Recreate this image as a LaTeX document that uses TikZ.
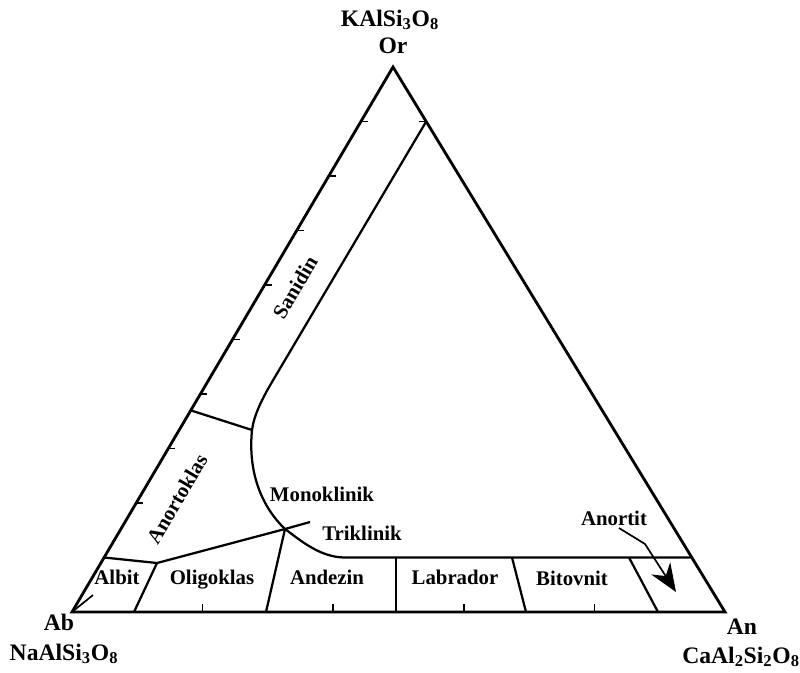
\documentclass[tikz,border=0pt]{standalone}
\usepackage{fontspec}
\setmainfont{Liberation Serif}
\usetikzlibrary{calc,arrows.meta}
\tikzset{every node/.style={inner sep=0pt,font=\fontsize{14.8}{16}\selectfont\bfseries}}
\tikzset{v/.style={font=\fontsize{16.8}{18}\selectfont\bfseries}}
\tikzset{rim/.style={line width=2pt,line join=miter}}
\tikzset{bd/.style={line width=1.6pt}}
\tikzset{tk/.style={line width=1.2pt}}
\tikzset{a/.style={line width=1.2pt,-{Stealth[length=20pt,width=16pt]}}}

\begin{document}
\begin{tikzpicture}[x=0.025cm,y=-0.025cm]
  \useasboundingbox (0,0) rectangle (800,672);
  % corners
  \coordinate (Ab) at (72,612);
  \coordinate (An) at (725,612);
  \coordinate (Or) at (393,67);
  \draw[rim] (Ab) -- (An) -- (Or) -- cycle;
  % ticks
  \foreach \k in {2,...,9}
    \draw[tk] ($(Ab)!\k/10!(Or)$) -- ++(7,0);
  \foreach \k in {1,...,4}
    \draw[tk] ($(Ab)!\k/5!(An)$) -- ++(0,-8);
  \draw[tk] ($(An)!0.9!(Or)$) -- ++(-7,0);
  \draw[tk] (Ab) -- (93,595);
  % fields
  \coordinate (S1) at ($(An)!0.9!(Or)$);
  \coordinate (S2) at (272,382);
  \coordinate (J1) at (252,430);
  \coordinate (J2) at (285,529);
  \coordinate (J3) at (157,563);
  \coordinate (F1) at (345,557.5);
  \coordinate (F2) at ($(An)!0.1!(Or)$);
  \draw[bd] (S1) -- (S2) .. controls (262,399) and (254,415) .. (J1)
    .. controls (248,470) and (260,505) .. (J2)
    .. controls (300,540) and (320,557.5) .. (F1) -- (F2);
  \draw[bd] ($(Ab)!0.37!(Or)$) -- (J1);
  \draw[bd] ($(Ab)!0.1!(Or)$) -- (J3) -- (J2) -- (310,522);
  \draw[bd] (J3) -- (134,612);
  \draw[bd] (J2) -- (266,612);
  \draw[bd] (396,557.5) -- (396,612);
  \draw[bd] (512,557.5) -- (526,612);
  \draw[bd] (629,557.5) -- (658,612);
  % corner labels
  \node[v,anchor=base] (OrF) at (390,26) {KAlSi\textsubscript{3}O\textsubscript{8}};
  \node[v,anchor=base] (OrL) at (393,53) {Or};
  \node[v,anchor=base] (AbL) at (59,630) {Ab};
  \node[v,anchor=base] (AbF) at (64,660) {NaAlSi\textsubscript{3}O\textsubscript{8}};
  \node[v,anchor=base] (AnL) at (742,634) {An};
  \node[v,anchor=base] (AnF) at (741,663) {CaAl\textsubscript{2}Si\textsubscript{2}O\textsubscript{8}};
  % field labels
  \node[anchor=base] (albit) at (117,584.5) {Albit};
  \node[anchor=base] (oligo) at (212,584.5) {Oligoklas};
  \node[anchor=base] (andez) at (327,584.5) {Andezin};
  \node[anchor=base] (labra) at (455,584.5) {Labrador};
  \node[anchor=base] (bitov) at (572,585) {Bitovnit};
  \node[anchor=base] (trikl) at (362,540.5) {Triklinik};
  \node[anchor=base] (monok) at (322,501.5) {Monoklinik};
  \node[anchor=base] (anort) at (614,525) {Anortit};
  \node[rotate=59.5] (anokl) at (177,499) {Anortoklas};
  \node[rotate=59.5] (sanid) at (295,287) {Sanidin};
  \coordinate (arrS) at (619,528);
  \coordinate (arrE) at (676,592);
  \draw[a] (arrS) -- (645,544) -- (arrE);
\end{tikzpicture}
\end{document}
